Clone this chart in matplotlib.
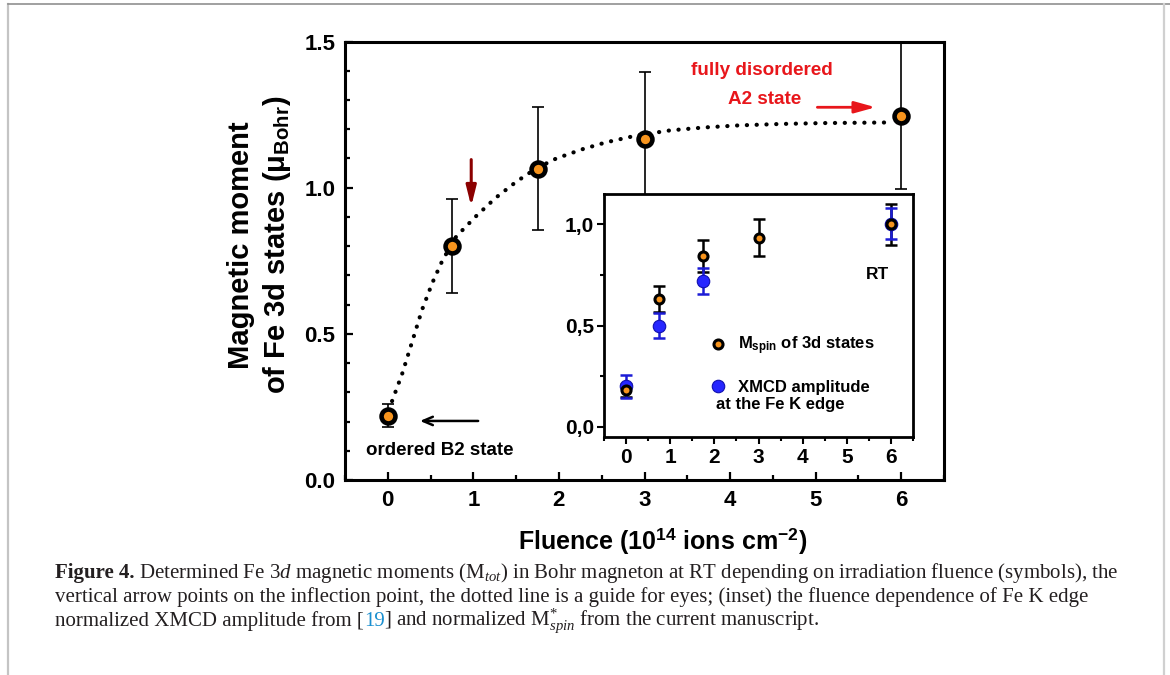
import matplotlib
matplotlib.use('Agg')
import matplotlib.pyplot as plt
from matplotlib.ticker import MultipleLocator, FuncFormatter
from matplotlib.lines import Line2D

plt.rcParams['font.family'] = ['Liberation Sans', 'DejaVu Sans']
plt.rcParams['font.weight'] = 'bold'
# one custom math fontset: bold sans for the plot labels, upright/italic serif for the caption
plt.rcParams['mathtext.fontset'] = 'custom'
plt.rcParams['mathtext.rm'] = 'Liberation Serif:style=normal:weight=normal'
plt.rcParams['mathtext.it'] = 'Liberation Serif:style=italic:weight=normal'
plt.rcParams['mathtext.bf'] = 'Liberation Sans:style=normal:weight=bold'
plt.rcParams['mathtext.sf'] = 'Liberation Sans:style=normal:weight=bold'

# main panel: Fe 3d magnetic moment vs fluence
fluence = [0, 0.75, 1.75, 3, 6]
moment = [0.22, 0.80, 1.065, 1.165, 1.245]
moment_err = [0.04, 0.16, 0.21, 0.23, 0.25]

# dotted guide for eyes
guide_x = [0.05, 0.17, 0.29, 0.40, 0.52, 0.64, 0.80, 1.03, 1.26, 1.50, 1.73,
           1.97, 2.28, 2.55, 2.90, 3.30, 3.70, 4.10, 4.60, 5.10, 5.84]
guide_y = [0.27, 0.365, 0.478, 0.582, 0.674, 0.752, 0.833, 0.902, 0.965, 1.020,
           1.065, 1.100, 1.132, 1.155, 1.178, 1.196, 1.206, 1.213, 1.218, 1.221, 1.223]

# inset: normalized values
spin_x = [0, 0.75, 1.75, 3, 6]
spin_y = [0.18, 0.63, 0.845, 0.935, 1.0]
spin_err = [0.03, 0.065, 0.08, 0.09, 0.10]
xmcd_x = [0, 0.75, 1.75, 6]
xmcd_y = [0.20, 0.50, 0.72, 1.004]
xmcd_err = [0.055, 0.06, 0.065, 0.075]

orange = '#f7941d'
blue = '#2626ff'
red = '#e8161b'

fig = plt.figure(figsize=(11.7, 6.75), dpi=100)
ax = fig.add_axes([345 / 1170, 1 - 480 / 675, 599 / 1170, 438.5 / 675])

ax.errorbar(fluence, moment, yerr=moment_err, fmt='none', ecolor='black',
            elinewidth=1.2, capsize=4.5, capthick=1.2, zorder=2)
ax.plot(guide_x, guide_y, color='black', lw=3.0, ls=(0, (0.05, 2.3)),
        dash_capstyle='round', zorder=3)
ax.plot(fluence, moment, 'o', ms=10, mfc=orange, mec='black', mew=3.3, zorder=4)

ax.set_xlim(-0.5, 6.5)
ax.set_ylim(0, 1.5)
ax.xaxis.set_major_locator(MultipleLocator(1))
ax.xaxis.set_minor_locator(MultipleLocator(0.5))
ax.yaxis.set_major_locator(MultipleLocator(0.5))
ax.yaxis.set_minor_locator(MultipleLocator(0.1))
ax.tick_params(which='both', direction='in', top=False, right=False, width=1.6)
ax.tick_params(which='major', length=6, labelsize=16, pad=7)
ax.tick_params(which='minor', length=3.5)
for s in ax.spines.values():
    s.set_linewidth(2.2)

ax.text(4.37, 1.402, 'fully disordered', color=red, fontsize=13.6,
        ha='center', va='center')
ax.text(4.40, 1.30, 'A2 state', color=red, fontsize=13.6, ha='center', va='center')
ax.annotate('', xy=(5.70, 1.275), xytext=(5.02, 1.275),
            arrowprops=dict(arrowstyle='-|>,head_length=0.9,head_width=0.25',
                            color=red, lw=2, shrinkA=0, shrinkB=0, mutation_scale=14))
ax.text(0.61, 0.10, 'ordered B2 state', fontsize=13.5, ha='center', va='center')
ax.annotate('', xy=(0.376, 0.202), xytext=(1.056, 0.202),
            arrowprops=dict(arrowstyle='->,head_length=0.7,head_width=0.3',
                            color='black', lw=1.8, shrinkA=0, shrinkB=0))
ax.annotate('', xy=(0.975, 0.936), xytext=(0.975, 1.096),
            arrowprops=dict(arrowstyle='-|>,head_length=1.2,head_width=0.3',
                            color='#8b0000', lw=2.2, shrinkA=0, shrinkB=0))

fig.text(0.2222, 0.637, 'Magnetic moment\nof Fe 3d states ($\\mathbf{\\mu_{Bohr}}$)',
         rotation=90, ha='center', va='center', fontsize=21, linespacing=1.25,
         multialignment='center')
fig.text(663 / 1170, 1 - 541 / 675,
         'Fluence (10$^{\\mathbf{14}}$ ions cm$^{\\mathbf{-2}}$)',
         ha='center', va='center', fontsize=18)

# inset
ins = fig.add_axes([604 / 1170, 1 - 437 / 675, 309 / 1170, 243 / 675])
ins.errorbar(spin_x, spin_y, yerr=spin_err, fmt='none', ecolor='black',
             elinewidth=1.8, capsize=4.5, capthick=1.8, zorder=2)
ins.errorbar(xmcd_x, xmcd_y, yerr=xmcd_err, fmt='none', ecolor='#1c1cd6',
             elinewidth=1.8, capsize=4.5, capthick=1.8, zorder=3)
h_xmcd, = ins.plot(xmcd_x, xmcd_y, 'o', ms=9, mfc=blue, mec='#1010b0', mew=0.8,
                   zorder=4)
h_spin, = ins.plot(spin_x, spin_y, 'o', ms=6.5, mfc=orange, mec='black', mew=2.2,
                   zorder=5)

ins.set_xlim(-0.5, 6.5)
ins.set_ylim(-0.05, 1.15)
ins.xaxis.set_major_locator(MultipleLocator(1))
ins.xaxis.set_minor_locator(MultipleLocator(0.5))
ins.yaxis.set_major_locator(MultipleLocator(0.5))
ins.yaxis.set_minor_locator(MultipleLocator(0.25))
ins.yaxis.set_major_formatter(FuncFormatter(lambda v, p: f'{v:.1f}'.replace('.', ',')))
ins.tick_params(which='both', direction='out', top=False, right=False, width=1.5)
ins.tick_params(which='major', length=5, labelsize=15)
ins.tick_params(which='minor', length=3)
ins.tick_params(axis='y', pad=2)
ins.tick_params(axis='x', pad=3)
for s in ins.spines.values():
    s.set_linewidth(2)

ins.legend([h_spin, h_xmcd], ['M$_{\\mathbf{spin}}$ of 3d states', 'XMCD amplitude'],
           loc='upper left', bbox_to_anchor=(0.33, 0.42), frameon=False,
           fontsize=12, handletextpad=0.5, labelspacing=1.34, borderaxespad=0,
           handlelength=1.4, borderpad=0)
ins.text(2.04, 0.112, 'at the Fe K edge', fontsize=12, ha='left', va='center')
ins.text(5.70, 0.752, 'RT', fontsize=12.5, ha='center', va='center')

# caption
cap = dict(fontfamily='Liberation Serif', fontweight='normal', fontsize=15,
           color='#231f20')
x0 = 55 / 1170
base = [1 - 578 / 675, 1 - 602 / 675, 1 - 626 / 675]

t = fig.text(x0, base[0], 'Figure 4.', va='baseline', **{**cap, 'fontweight': 'bold'})
ax.annotate(' Determined Fe 3$d$ magnetic moments (M$_{tot}$) in Bohr magneton at RT '
            'depending on irradiation fluence (symbols), the',
            xy=(1, base[0]), xycoords=(t, 'figure fraction'), va='baseline',
            annotation_clip=False, **cap)
fig.text(x0, base[1], 'vertical arrow points on the inflection point, the dotted line '
         'is a guide for eyes; (inset) the fluence dependence of Fe K edge',
         va='baseline', **cap)
t = fig.text(x0, base[2], 'normalized XMCD amplitude from [', va='baseline', **cap)
t = ax.annotate('19', xy=(1, base[2]), xycoords=(t, 'figure fraction'),
                va='baseline', annotation_clip=False, **{**cap, 'color': '#1a8fd0'})
ax.annotate('] and normalized M$^{*}_{spin}$ from the current manuscript.',
            xy=(1, base[2]), xycoords=(t, 'figure fraction'), va='baseline',
            annotation_clip=False, **cap)

# page frame
fig.add_artist(Line2D([7.5 / 1170] * 2, [0, 1 - 4 / 675], transform=fig.transFigure,
                      color='#c4c4c4', lw=1.6))
fig.add_artist(Line2D([7.5 / 1170, 1], [1 - 4 / 675] * 2, transform=fig.transFigure,
                      color='#909090', lw=1.2))
fig.add_artist(Line2D([1164 / 1170] * 2, [0, 1 - 4 / 675], transform=fig.transFigure,
                      color='#d0d0d0', lw=1.6))

fig.savefig('out.png', dpi=100)
